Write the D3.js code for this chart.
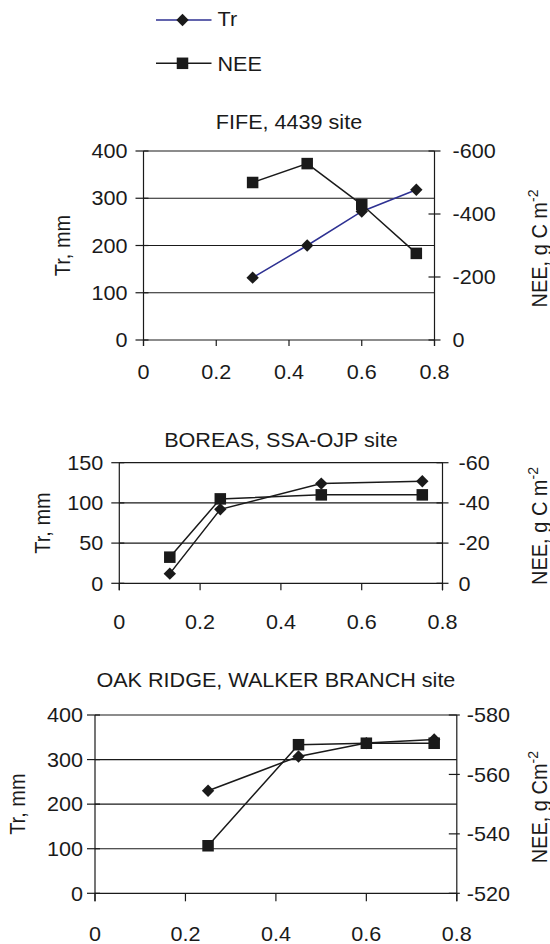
<!DOCTYPE html>
<html>
<head>
<meta charset="utf-8">
<script src="https://cdn.jsdelivr.net/npm/d3@7"></script>
<style>
  body { margin: 0; background: #fff; }
  svg { display: block; font-family: "Liberation Sans", Arial, Helvetica, sans-serif; }
</style>
</head>
<body>
<svg id="chart" width="550" height="944"></svg>
<script>
// ---- data ----
const seriesNames = ["Tr", "NEE"];
const xTickValues = [0, 0.2, 0.4, 0.6, 0.8];

const fifeTitle = "FIFE, 4439 site";
const fifeX = [0.3, 0.45, 0.6, 0.75];
const fifeTr = [132, 200, 272, 318];
const fifeNee = [-500, -560, -430, -275];
const fifeTrTicks = [0, 100, 200, 300, 400];
const fifeNeeTicks = [0, -200, -400, -600];

const boreasTitle = "BOREAS, SSA-OJP site";
const boreasX = [0.125, 0.25, 0.5, 0.75];
const boreasTr = [12, 92, 124, 127];
const boreasNee = [-13, -42, -44, -44];
const boreasTrTicks = [0, 50, 100, 150];
const boreasNeeTicks = [0, -20, -40, -60];

const oakTitle = "OAK RIDGE, WALKER BRANCH site";
const oakX = [0.25, 0.45, 0.6, 0.75];
const oakTr = [230, 307, 337, 345];
const oakNee = [-536, -570, -570.5, -570.5];
const oakTrTicks = [0, 100, 200, 300, 400];
const oakNeeTicks = [-520, -540, -560, -580];

const trAxisTitle = "Tr, mm";
const neeAxisTitles = ["NEE, g C m", "NEE, g C m", "NEE, g Cm"];
const neeAxisSup = "-2";

// ---- styling / layout ----
const FONT = 20;
const SX = 1.08;            // horizontal glyph stretch
const TR_BLUE = "#2e3192";
const INK = "#1a1a1a";

const panels = [
  { title: fifeTitle, x: fifeX, tr: fifeTr, nee: fifeNee, trTicks: fifeTrTicks, neeTicks: fifeNeeTicks,
    neeTitle: neeAxisTitles[0], trColor: TR_BLUE,
    box: { left: 143.5, right: 434.5, top: 151, bottom: 340 },
    titleBase: 128.5, xLabelMid: 371.5, trTitleBase: 70, neeTitleBase: 547,
    leftGap: 16, rightGap: 18, rTickIn: 6, rTickOut: 6, xTickLen: 6 },
  { title: boreasTitle, x: boreasX, tr: boreasTr, nee: boreasNee, trTicks: boreasTrTicks, neeTicks: boreasNeeTicks,
    neeTitle: neeAxisTitles[1], trColor: INK,
    box: { left: 119.3, right: 442.5, top: 462.7, bottom: 583.3 },
    titleBase: 447, xLabelMid: 622, trTitleBase: 50, neeTitleBase: 547,
    leftGap: 16, rightGap: 16, rTickIn: 6, rTickOut: 6, xTickLen: 7 },
  { title: oakTitle, x: oakX, tr: oakTr, nee: oakNee, trTicks: oakTrTicks, neeTicks: oakNeeTicks,
    neeTitle: neeAxisTitles[2], trColor: INK,
    box: { left: 95, right: 456.8, top: 715, bottom: 893.3 },
    titleBase: 687, xLabelMid: 933.3, trTitleBase: 24.5, neeTitleBase: 547,
    leftGap: 12, rightGap: 10, rTickIn: 8, rTickOut: 3, xTickLen: 8 }
];

const svg = d3.select("#chart");

// text placed by translate + horizontal stretch
function label(g, x, y, s, anchor, extra) {
  return g.append("text")
    .attr("transform", `translate(${x},${y}) scale(${SX},1)` + (extra || ""))
    .attr("text-anchor", anchor || "start")
    .attr("font-size", FONT)
    .attr("fill", INK)
    .text(s);
}

const diamond = d3.symbol().type(d3.symbolDiamond2).size(98);
const square = d3.symbol().type(d3.symbolSquare2).size(169);

// ---- legend ----
const legend = svg.append("g");
const legendRows = [
  { name: seriesNames[0], y: 20, color: TR_BLUE, sym: diamond, base: 26 },
  { name: seriesNames[1], y: 63.3, color: INK, sym: square, base: 70.5 }
];
legendRows.forEach(r => {
  legend.append("line").attr("x1", 156).attr("x2", 211.5).attr("y1", r.y).attr("y2", r.y)
    .attr("stroke", r.color).attr("stroke-width", 1.5);
  legend.append("path").attr("d", r.sym()).attr("transform", `translate(182.5,${r.y})`).attr("fill", INK);
  label(legend, 217.5, r.base, r.name, "start");
});

// ---- panels ----
panels.forEach(p => {
  const b = p.box;
  const g = svg.append("g");
  const x = d3.scaleLinear().domain([0, 0.8]).range([b.left, b.right]);
  const yTr = d3.scaleLinear().domain([p.trTicks[0], p.trTicks[p.trTicks.length - 1]]).range([b.bottom, b.top]);
  const yNee = d3.scaleLinear().domain([p.neeTicks[0], p.neeTicks[p.neeTicks.length - 1]]).range([b.bottom, b.top]);

  // gridlines at Tr ticks
  g.selectAll(".grid").data(p.trTicks).join("line")
    .attr("x1", b.left).attr("x2", b.right)
    .attr("y1", d => yTr(d)).attr("y2", d => yTr(d))
    .attr("stroke", INK).attr("stroke-width", 1.2);

  // left axis
  g.append("line").attr("x1", b.left).attr("x2", b.left).attr("y1", b.top).attr("y2", b.bottom + p.xTickLen)
    .attr("stroke", INK).attr("stroke-width", 1.2);
  g.selectAll(".lt").data(p.trTicks).join("line")
    .attr("x1", b.left - 8).attr("x2", b.left + 5)
    .attr("y1", d => yTr(d)).attr("y2", d => yTr(d))
    .attr("stroke", INK).attr("stroke-width", 1.2);
  p.trTicks.forEach(t => label(g, b.left - p.leftGap, yTr(t) + 7.2, String(t), "end"));

  // right axis
  g.append("line").attr("x1", b.right).attr("x2", b.right).attr("y1", b.top).attr("y2", b.bottom + p.xTickLen)
    .attr("stroke", INK).attr("stroke-width", 1.2);
  g.selectAll(".rt").data(p.neeTicks).join("line")
    .attr("x1", b.right - p.rTickIn).attr("x2", b.right + p.rTickOut)
    .attr("y1", d => yNee(d)).attr("y2", d => yNee(d))
    .attr("stroke", INK).attr("stroke-width", 1.2);
  p.neeTicks.forEach(t => label(g, b.right + p.rightGap, yNee(t) + 7.2, String(t), "start"));

  // bottom axis ticks + labels
  g.selectAll(".xt").data(xTickValues).join("line")
    .attr("x1", d => x(d)).attr("x2", d => x(d))
    .attr("y1", b.bottom).attr("y2", b.bottom + p.xTickLen)
    .attr("stroke", INK).attr("stroke-width", 1.2);
  xTickValues.forEach(t => label(g, x(t), p.xLabelMid + 7.2, String(t), "middle"));

  // titles
  label(g, (b.left + b.right) / 2, p.titleBase, p.title, "middle");
  const midY = (b.top + b.bottom) / 2;
  label(g, p.trTitleBase, midY, trAxisTitle, "middle", " rotate(-90)");
  const nt = label(g, p.neeTitleBase, midY + 3, p.neeTitle, "middle", " rotate(-90)");
  nt.append("tspan").attr("dy", -8).attr("font-size", 14).text(neeAxisSup);

  // Tr series
  const trPts = p.x.map((v, i) => [x(v), yTr(p.tr[i])]);
  g.append("path").attr("d", d3.line()(trPts)).attr("fill", "none")
    .attr("stroke", p.trColor).attr("stroke-width", 1.5);
  g.selectAll(".dm").data(trPts).join("path")
    .attr("d", diamond()).attr("transform", d => `translate(${d[0]},${d[1]})`).attr("fill", INK);

  // NEE series
  const neePts = p.x.map((v, i) => [x(v), yNee(p.nee[i])]);
  g.append("path").attr("d", d3.line()(neePts)).attr("fill", "none")
    .attr("stroke", INK).attr("stroke-width", 1.5);
  g.selectAll(".sq").data(neePts).join("path")
    .attr("d", square()).attr("transform", d => `translate(${d[0]},${d[1]})`).attr("fill", INK);
});
</script>
</body>
</html>
